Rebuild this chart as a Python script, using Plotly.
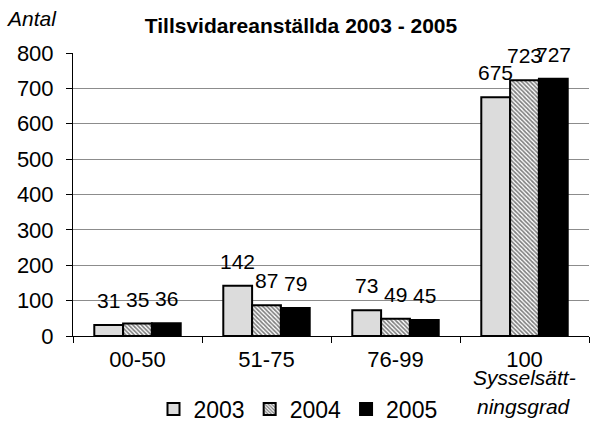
import plotly.graph_objects as go

categories = ["00-50", "51-75", "76-99", "100"]
years = ["2003", "2004", "2005"]
values_2003 = [31, 142, 73, 675]
values_2004 = [35, 87, 49, 723]
values_2005 = [36, 79, 45, 727]
y_ticks = [0, 100, 200, 300, 400, 500, 600, 700, 800]

FONT = "Arial, 'Liberation Sans', sans-serif"

series = [values_2003, values_2004, values_2005]
fills = ["#dcdcdc", "white", "black"]

fig = go.Figure()
for i, (yr, vals) in enumerate(zip(years, series)):
    marker = dict(color=fills[i], line=dict(color="black", width=2))
    if i == 1:
        marker["pattern"] = dict(shape="\\", fgcolor="black", bgcolor="white",
                                 size=3, solidity=0.55)
    fig.add_trace(go.Bar(name=yr, x=categories, y=vals, marker=marker))

# plot geometry
PLOT_L, PLOT_R = 73, 589
PLOT_T, PLOT_B = 53, 336
cat_px = (PLOT_R - PLOT_L) / len(categories)
BARGAP = 0.33
bar_px = cat_px * (1 - BARGAP) / len(years)


def px_x(p):
    return (p - PLOT_L) / (PLOT_R - PLOT_L)


def px_y(p):
    return (PLOT_B - p) / (PLOT_B - PLOT_T)


annotations = []
for i, vals in enumerate(series):
    for j, v in enumerate(vals):
        annotations.append(dict(
            x=j, y=v, xref="x", yref="y", text=str(v), showarrow=False,
            xshift=(i - 1) * bar_px, yshift=11, yanchor="bottom",
            font=dict(family=FONT, size=21, color="black")))

annotations.append(dict(text="<i>Antal</i>", xref="paper", yref="paper",
                        x=px_x(4), y=px_y(18),
                        xanchor="left", yanchor="middle", showarrow=False,
                        font=dict(family=FONT, size=21, color="black")))
annotations.append(dict(text="<i>Sysselsätt-</i>", xref="paper", yref="paper",
                        x=px_x(524), y=px_y(377),
                        xanchor="center", yanchor="middle", showarrow=False,
                        font=dict(family=FONT, size=21, color="black")))
annotations.append(dict(text="<i>ningsgrad</i>", xref="paper", yref="paper",
                        x=px_x(524), y=px_y(406),
                        xanchor="center", yanchor="middle", showarrow=False,
                        font=dict(family=FONT, size=21, color="black")))

fig.update_layout(
    width=591, height=422,
    margin=dict(l=PLOT_L, r=591 - PLOT_R, t=PLOT_T, b=422 - PLOT_B, autoexpand=False),
    paper_bgcolor="white", plot_bgcolor="white",
    barmode="group", bargap=BARGAP, bargroupgap=0,
    font=dict(family=FONT, color="black"),
    title=dict(text="<b>Tillsvidareanställda 2003 - 2005</b>",
               x=301 / 591, xanchor="center", y=1 - 26 / 422, yanchor="middle",
               font=dict(family=FONT, size=21, color="black")),
    showlegend=True,
    legend=dict(orientation="h", x=px_x(298), xanchor="center",
                y=px_y(409), yanchor="middle",
                font=dict(family=FONT, size=23, color="black"),
                itemclick=False, tracegroupgap=0),
    annotations=annotations,
)
fig.update_xaxes(type="category", categoryorder="array", categoryarray=categories,
                 range=[-0.5, len(categories) - 0.5], automargin=False,
                 showline=True, linecolor="black", linewidth=1,
                 ticks="outside", tickson="boundaries", ticklen=6, tickcolor="black",
                 tickfont=dict(family=FONT, size=22, color="black"), tickangle=0,
                 ticklabelstandoff=4, showgrid=False)
fig.update_yaxes(range=[0, 800], tickvals=y_ticks, showline=True, linecolor="black",
                 linewidth=1, ticks="outside", ticklen=6, tickcolor="black",
                 automargin=False,
                 tickfont=dict(family=FONT, size=22, color="black"),
                 ticklabelstandoff=8, showgrid=True, gridcolor="#8c8c8c", gridwidth=1,
                 zeroline=False)

fig.write_html("out.html", config={"displayModeBar": False},
               post_script="document.body.style.margin='0';document.body.style.overflow='hidden';")
